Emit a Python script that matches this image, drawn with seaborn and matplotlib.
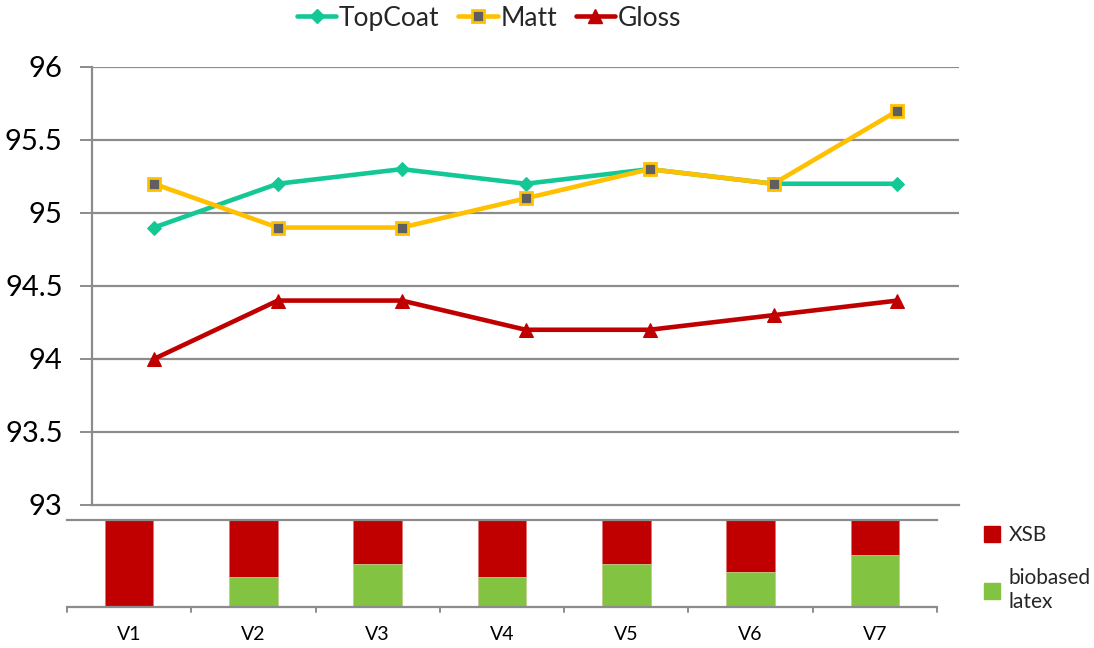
import matplotlib
matplotlib.use("Agg")
import matplotlib.pyplot as plt
import seaborn as sns
import pandas as pd
from matplotlib.lines import Line2D
from matplotlib.patches import Patch

categories = ["V1", "V2", "V3", "V4", "V5", "V6", "V7"]
topcoat = [94.9, 95.2, 95.3, 95.2, 95.3, 95.2, 95.2]
matt = [95.2, 94.9, 94.9, 95.1, 95.3, 95.2, 95.7]
gloss = [94.0, 94.4, 94.4, 94.2, 94.2, 94.3, 94.4]
biobased = [0, 35, 50, 35, 50, 40, 60]
xsb = [100 - b for b in biobased]
y_ticks = [93, 93.5, 94, 94.5, 95, 95.5, 96]

sns.set_theme(style="white")
plt.rcParams["font.family"] = ["Lato", "DejaVu Sans"]

fig = plt.figure(figsize=(10.94, 6.48), dpi=100)
ax = fig.add_axes([0.084, 0.2207, 0.793, 0.676])
axb = fig.add_axes([0.0612, 0.0633, 0.7953, 0.1342])

df = pd.DataFrame({"cat": categories * 3,
                   "val": topcoat + matt + gloss,
                   "series": ["TopCoat"] * 7 + ["Matt"] * 7 + ["Gloss"] * 7})

colors = {"TopCoat": "#14C896", "Matt": "#FFC000", "Gloss": "#C00000"}
grid_c = "#8C8C8C"
for yv in y_ticks[1:]:
    ax.axhline(yv, color=grid_c, lw=1.6, zorder=0)

sns.lineplot(data=df[df.series == "TopCoat"], x="cat", y="val", ax=ax,
             color=colors["TopCoat"], lw=3.3, marker="D", markersize=7,
             markeredgecolor=colors["TopCoat"], sort=False, zorder=3)
sns.lineplot(data=df[df.series == "Matt"], x="cat", y="val", ax=ax,
             color=colors["Matt"], lw=3.3, marker="s", markersize=9,
             markerfacecolor="#5F5F5F", markeredgecolor=colors["Matt"],
             markeredgewidth=2, sort=False, zorder=4)
sns.lineplot(data=df[df.series == "Gloss"], x="cat", y="val", ax=ax,
             color=colors["Gloss"], lw=3.3, marker="^", markersize=10,
             markeredgecolor=colors["Gloss"], sort=False, zorder=3)

ax.set_xlim(-0.5, 6.5)
ax.set_ylim(93, 96)
ax.set_yticks(y_ticks)
ax.set_yticklabels([f"{v:g}" for v in y_ticks], fontsize=21, color="#000000")
ax.set_xticks([])
ax.set_xlabel("")
ax.set_ylabel("")
for s in ["top", "right"]:
    ax.spines[s].set_visible(False)
for s in ["left", "bottom"]:
    ax.spines[s].set_color(grid_c)
    ax.spines[s].set_linewidth(1.6)
ax.tick_params(axis="y", length=9, width=1.4, color=grid_c, pad=12, left=True)
if ax.get_legend():
    ax.get_legend().remove()

# Stacked bars
dfb = pd.DataFrame({"cat": categories, "xsb": [100] * 7, "bio": biobased})
sns.barplot(data=dfb, x="cat", y="xsb", ax=axb, color="#C00000", width=0.39,
            saturation=1, edgecolor="#E07070", linewidth=0.5)
sns.barplot(data=dfb, x="cat", y="bio", ax=axb, color="#82C341", width=0.39,
            saturation=1, edgecolor="#C8E6A8", linewidth=0.5)
axb.set_xlim(-0.5, 6.5)
axb.set_ylim(0, 100)
axb.set_yticks([])
axb.set_xlabel("")
axb.set_ylabel("")
axb.set_xticks(range(7))
axb.set_xticklabels(categories, fontsize=14, color="#000000")
axb.tick_params(axis="x", length=0, pad=14)
for bx in [i - 0.5 for i in range(8)]:
    axb.plot([bx, bx], [0, -6], color=grid_c, lw=1.4, clip_on=False)
axb.spines["left"].set_visible(False)
axb.spines["right"].set_visible(False)
for s in ["top", "bottom"]:
    axb.spines[s].set_color(grid_c)
    axb.spines[s].set_linewidth(1.6)

# Top legend
handles = [
    Line2D([], [], color=colors["TopCoat"], lw=3.3, marker="D", markersize=7),
    Line2D([], [], color=colors["Matt"], lw=3.3, marker="s", markersize=9,
           markerfacecolor="#5F5F5F", markeredgecolor=colors["Matt"], markeredgewidth=2),
    Line2D([], [], color=colors["Gloss"], lw=3.3, marker="^", markersize=10),
]
fig.legend(handles, ["TopCoat", "Matt", "Gloss"], loc="center", ncol=3,
           bbox_to_anchor=(0.447, 0.972), frameon=False, fontsize=19,
           handlelength=1.5, handletextpad=0.1, columnspacing=0.7)

# Bar legend
bh = [Patch(color="#C00000"), Patch(color="#82C341")]
fig.legend(bh, ["XSB", "biobased\nlatex"], loc="upper left",
           bbox_to_anchor=(0.882, 0.218), frameon=False, fontsize=15,
           handlelength=0.8, handleheight=0.8, handletextpad=0.4,
           labelspacing=1.1)

fig.savefig("out.png", dpi=100)
